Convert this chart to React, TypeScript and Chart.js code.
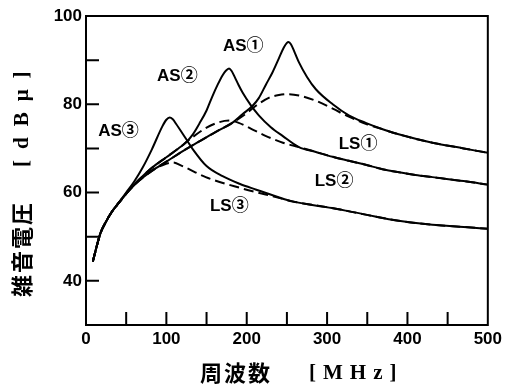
import React, { useEffect, useRef } from 'react';
import { Chart, registerables } from 'chart.js';
Chart.register(...registerables);

// ---- data (MHz, dBμ) ----
const xAS1 = [8.5, 18, 24, 32, 41, 53, 66, 82, 100, 124, 141, 160, 182, 195, 207, 215, 224, 232, 240, 246, 250, 252, 255, 260, 265, 275, 286, 307, 327, 348, 370, 389, 431, 470, 500];
const yAS1 = [44.4, 50.8, 53.1, 55.6, 57.7, 60.4, 62.7, 64.9, 67.0, 69.8, 71.6, 73.6, 75.8, 77.8, 79.6, 81.4, 84.5, 87.2, 90.4, 92.8, 93.9, 94.1, 93.6, 91.6, 89.5, 86.2, 83.4, 80.0, 77.5, 75.8, 74.3, 73.2, 71.3, 70.0, 69.0];

const xLS1 = [8.5, 18, 24, 32, 41, 53, 66, 82, 100, 124, 141, 160, 182, 200, 211, 228, 240, 251, 265, 286, 307, 327, 348, 370, 389, 431, 470, 500];
const yLS1 = [44.4, 50.8, 53.1, 55.6, 57.7, 60.4, 62.7, 64.9, 67.0, 69.8, 71.6, 73.6, 75.8, 78.0, 79.6, 81.5, 82.1, 82.3, 82.0, 80.8, 79.0, 77.2, 75.6, 74.3, 73.2, 71.3, 70.0, 69.0];

const xAS2 = [8.5, 18, 24, 32, 41, 53, 66, 82, 100, 115, 124, 133, 141, 150, 157, 164, 170, 174, 178, 181, 185, 190, 195, 205, 215, 230, 245, 265, 286, 307, 327, 348, 369, 410, 431, 470, 500];
const yAS2 = [44.4, 50.8, 53.1, 55.6, 57.7, 60.4, 62.9, 65.6, 68.0, 70.0, 71.3, 73.2, 75.6, 78.6, 81.7, 84.5, 86.6, 87.6, 88.1, 87.6, 86.2, 84.3, 82.6, 79.8, 77.5, 74.8, 72.8, 70.3, 69.2, 68.1, 67.2, 66.3, 65.3, 64.0, 63.5, 62.6, 61.8];

const xLS2 = [8.5, 18, 24, 32, 41, 53, 66, 82, 100, 115, 130, 150, 165, 178, 190, 205, 224, 245, 265, 286, 307, 327, 348, 369, 410, 431, 470, 500];
const yLS2 = [44.4, 50.8, 53.1, 55.6, 57.7, 60.4, 62.9, 65.6, 68.0, 70.0, 72.2, 74.7, 75.9, 76.3, 75.8, 74.5, 72.8, 71.3, 70.3, 69.2, 68.1, 67.2, 66.3, 65.3, 64.0, 63.5, 62.6, 61.8];

const xAS3 = [8.5, 18, 24, 32, 41, 50, 60, 70, 82, 95, 100, 104, 108, 112, 124, 133, 150, 170, 191, 211, 224, 257, 306, 348, 389, 431, 470, 500];
const yAS3 = [44.4, 50.8, 53.1, 55.6, 57.8, 60.0, 62.5, 65.5, 69.8, 75.0, 76.5, 77.0, 76.6, 75.6, 72.3, 69.8, 66.0, 63.7, 62.0, 60.7, 59.9, 58.0, 56.5, 55.0, 53.6, 52.7, 52.2, 51.8];

const xLS3 = [8.5, 18, 24, 32, 41, 53, 66, 80, 95, 108, 120, 149, 191, 240, 257, 306, 348, 389, 431, 470, 500];
const yLS3 = [44.4, 50.8, 53.1, 55.6, 57.7, 60.4, 62.9, 64.8, 66.2, 66.8, 66.0, 63.5, 61.1, 58.8, 58.0, 56.5, 55.0, 53.6, 52.7, 52.2, 51.8];

const xTickLabels = [0, 100, 200, 300, 400, 500];
const yTickLabels = [40, 60, 80, 100];
const xMinorTicks = [50, 100, 150, 200, 250, 300, 350, 400, 450];
const yMinorTicks = [40, 50, 60, 70, 80, 90];

const curveLabels = ['AS①', 'AS②', 'AS③', 'LS①', 'LS②', 'LS③'];
const curveLabelX = [195.6, 113.7, 40.4, 338.5, 308.7, 178.3];
const curveLabelY = [93.2, 86.4, 73.9, 70.9, 62.5, 56.8];

const xTitleMain = '周波数';
const xTitleUnit = '[MHz]';
const yTitleMain = '雑音電圧';
const yTitleUnit = '[dBμ]';

const toPts = (xs: number[], ys: number[]) => xs.map((x, i) => ({ x, y: ys[i] }));

const LABEL_FONT = 'bold 17px "Liberation Sans", "Noto Sans CJK JP", sans-serif';

const decorPlugin = {
  id: 'decor',
  afterDraw(chart: any) {
    const { ctx, chartArea: ca, scales } = chart;
    const xs = scales.x;
    const ys = scales.y;
    ctx.save();
    ctx.strokeStyle = '#000';
    ctx.lineWidth = 2;
    ctx.strokeRect(ca.left, ca.top, ca.right - ca.left, ca.bottom - ca.top);
    ctx.beginPath();
    xMinorTicks.forEach((v) => {
      const px = xs.getPixelForValue(v);
      ctx.moveTo(px, ca.bottom);
      ctx.lineTo(px, ca.bottom - 13);
    });
    yMinorTicks.forEach((v) => {
      const py = ys.getPixelForValue(v);
      ctx.moveTo(ca.left, py);
      ctx.lineTo(ca.left + 13, py);
    });
    ctx.stroke();

    // curve labels
    ctx.fillStyle = '#000';
    ctx.font = LABEL_FONT;
    ctx.textAlign = 'center';
    ctx.textBaseline = 'middle';
    curveLabels.forEach((t, i) => {
      ctx.fillText(t, xs.getPixelForValue(curveLabelX[i]), ys.getPixelForValue(curveLabelY[i]));
    });

    // x axis title
    ctx.textAlign = 'left';
    ctx.textBaseline = 'middle';
    ctx.font = 'bold 22px "Noto Sans CJK JP", sans-serif';
    (ctx as any).letterSpacing = '2px';
    ctx.fillText(xTitleMain, 200, 373);
    ctx.font = 'bold 21px "Liberation Serif", serif';
    (ctx as any).letterSpacing = '7px';
    ctx.fillText(xTitleUnit, 309, 374);

    // y axis title (rotated)
    ctx.save();
    ctx.translate(22, 297);
    ctx.rotate(-Math.PI / 2);
    ctx.font = 'bold 22px "Noto Sans CJK JP", sans-serif';
    (ctx as any).letterSpacing = '2px';
    ctx.fillText(yTitleMain, 0, 0);
    ctx.font = 'bold 21px "Liberation Serif", serif';
    (ctx as any).letterSpacing = '11px';
    ctx.fillText(yTitleUnit, 130, 1);
    ctx.restore();
    ctx.restore();
  },
};

export default function App() {
  const ref = useRef<HTMLCanvasElement>(null);
  useEffect(() => {
    document.body.style.margin = '0';
    const solid = (xs: number[], ys: number[], label: string) => ({
      label,
      data: toPts(xs, ys),
      borderColor: '#000',
      borderWidth: 2,
      pointRadius: 0,
      fill: false,
      cubicInterpolationMode: 'monotone' as const,
    });
    const dashed = (xs: number[], ys: number[], label: string) => ({
      ...solid(xs, ys, label),
      borderDash: [10, 5],
    });
    const chart = new Chart(ref.current!, {
      type: 'line',
      data: {
        datasets: [
          dashed(xLS1, yLS1, 'LS①'),
          dashed(xLS2, yLS2, 'LS②'),
          dashed(xLS3, yLS3, 'LS③'),
          solid(xAS1, yAS1, 'AS①'),
          solid(xAS2, yAS2, 'AS②'),
          solid(xAS3, yAS3, 'AS③'),
        ],
      },
      options: {
        responsive: false,
        animation: false,
        parsing: true,
        layout: { padding: { left: 0, top: 16, right: 17, bottom: 0 } },
        plugins: { legend: { display: false }, tooltip: { enabled: false } },
        scales: {
          x: {
            type: 'linear',
            min: 0,
            max: 500,
            afterBuildTicks: (s: any) => {
              s.ticks = xTickLabels.map((v) => ({ value: v }));
            },
            afterFit: (s: any) => {
              s.height = 60;
            },
            grid: { display: false, drawTicks: false },
            border: { display: true, color: '#000', width: 2 },
            ticks: {
              color: '#000',
              padding: 4,
              maxRotation: 0,
              font: { family: '"Liberation Sans", sans-serif', size: 17, weight: 'bold' },
            },
          },
          y: {
            type: 'linear',
            min: 30,
            max: 100,
            afterBuildTicks: (s: any) => {
              s.ticks = yTickLabels.map((v) => ({ value: v }));
            },
            afterFit: (s: any) => {
              s.width = 86;
            },
            grid: { display: false, drawTicks: false },
            border: { display: true, color: '#000', width: 2 },
            ticks: {
              color: '#000',
              padding: 4,
              font: { family: '"Liberation Sans", sans-serif', size: 17, weight: 'bold' },
            },
          },
        },
      },
      plugins: [decorPlugin],
    });
    return () => chart.destroy();
  }, []);
  return (
    <div style={{ width: 506, height: 385, background: '#fff' }}>
      <canvas ref={ref} width={506} height={385} />
    </div>
  );
}
